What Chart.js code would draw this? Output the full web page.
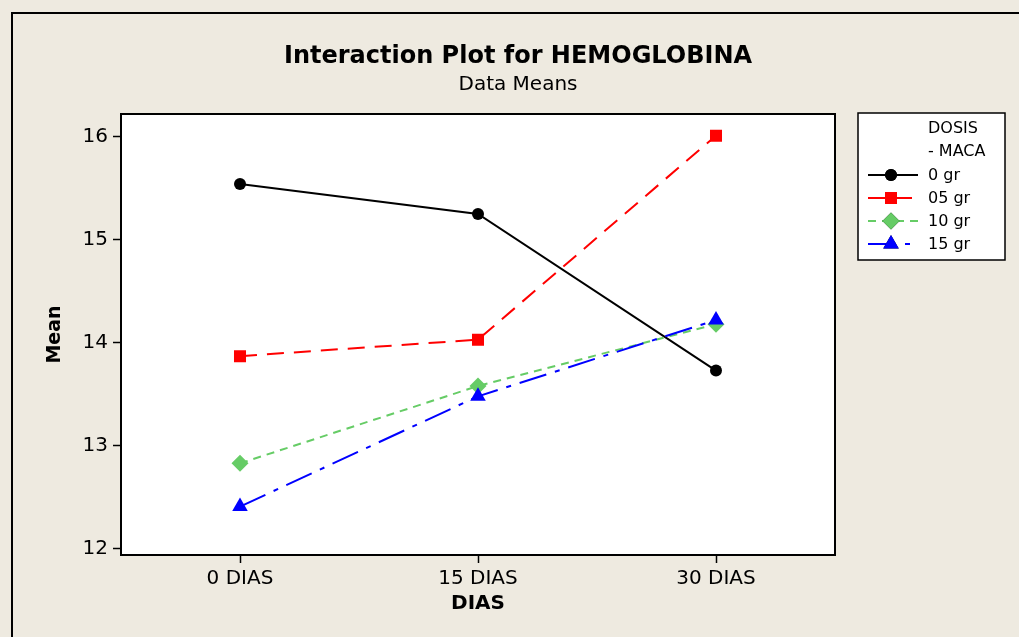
<!DOCTYPE html>
<html>
<head>
<meta charset="utf-8">
<script src="https://cdn.jsdelivr.net/npm/chart.js@4.4.1/dist/chart.umd.min.js"></script>
<style>
  html, body { margin: 0; padding: 0; background: #eeeae0; }
  #wrap { width: 1019px; height: 637px; }
</style>
</head>
<body>
<div id="wrap"><canvas id="grafico" width="1019" height="637"></canvas></div>
<script>
// datos
const dias = ['0 DIAS', '15 DIAS', '30 DIAS'];
const dosis = ['0 gr', '05 gr', '10 gr', '15 gr'];
const media0gr = [15.54, 15.25, 13.73];
const media05gr = [13.87, 14.03, 16.01];
const media10gr = [12.83, 13.58, 14.18];
const media15gr = [12.41, 13.48, 14.22];
const ticksY = [12, 13, 14, 15, 16];

const fuente = "'DejaVu Sans', Verdana, sans-serif";

// marco, titulos, borde del area y leyenda
const decoracion = {
    id: 'decoracion',
    beforeDraw(chart) {
        const ctx = chart.ctx;
        ctx.save();
        ctx.fillStyle = '#eeeae0';
        ctx.fillRect(0, 0, chart.width, chart.height);
        ctx.strokeStyle = '#000';
        ctx.lineWidth = 2;
        ctx.strokeRect(12, 13, 1030, 660);
        const a = chart.chartArea;
        ctx.fillStyle = '#fff';
        ctx.fillRect(a.left, a.top, a.right - a.left, a.bottom - a.top);
        ctx.restore();
    },
    afterDraw(chart) {
        const ctx = chart.ctx;
        const a = chart.chartArea;
        ctx.save();
        ctx.strokeStyle = '#000';
        ctx.lineWidth = 2;
        ctx.strokeRect(a.left, a.top, a.right - a.left, a.bottom - a.top);

        ctx.fillStyle = '#000';
        ctx.textAlign = 'center';
        ctx.textBaseline = 'middle';
        ctx.font = 'bold 24px ' + fuente;
        ctx.fillText('Interaction Plot for HEMOGLOBINA', 518, 57);
        ctx.font = '20px ' + fuente;
        ctx.fillText('Data Means', 518, 85);

        // leyenda
        const lx = 858, ly = 113, lw = 147, lh = 147;
        ctx.fillStyle = '#fff';
        ctx.fillRect(lx, ly, lw, lh);
        ctx.lineWidth = 1.5;
        ctx.strokeRect(lx, ly, lw, lh);
        ctx.fillStyle = '#000';
        ctx.textAlign = 'left';
        ctx.font = '16px ' + fuente;
        ctx.fillText('DOSIS', 928, 129);
        ctx.fillText('- MACA', 928, 152);
        chart.data.datasets.forEach((ds, i) => {
            const y = 175 + i * 23;
            ctx.strokeStyle = ds.borderColor;
            ctx.lineWidth = ds.borderWidth;
            ctx.setLineDash(ds.borderDash || []);
            ctx.beginPath();
            ctx.moveTo(868, y);
            ctx.lineTo(918, y);
            ctx.stroke();
            ctx.setLineDash([]);
            Chart.helpers.drawPoint(ctx, {
                pointStyle: ds.pointStyle,
                radius: ds.pointRadius,
                rotation: 0,
                borderWidth: 0
            }, 891, y);
            ctx.fillStyle = ds.pointBackgroundColor;
            ctx.fill();
            ctx.fillStyle = '#000';
            ctx.fillText(ds.label, 928, y + 1);
        });
        ctx.restore();
    }
};

const series = [media0gr, media05gr, media10gr, media15gr];
const colores = ['#000000', '#ff0000', '#66cc66', '#0000ff'];
const estilos = ['circle', 'rect', 'rectRot', 'triangle'];
const radios = [6, 8.5, 8.5, 9];
const guiones = [[], [17, 10], [8, 6], [28, 9, 5, 9]];

new Chart(document.getElementById('grafico'), {
    type: 'line',
    data: {
        labels: dias,
        datasets: series.map((s, i) => ({
            label: dosis[i],
            data: s,
            order: series.length - i, // la ultima serie queda encima
            borderColor: colores[i],
            borderWidth: 2,
            borderDash: guiones[i],
            pointStyle: estilos[i],
            pointRadius: radios[i],
            pointBackgroundColor: colores[i],
            pointBorderColor: colores[i],
            pointBorderWidth: 0,
            tension: 0
        }))
    },
    options: {
        responsive: false,
        animation: false,
        layout: { padding: { top: 114, right: 184, bottom: 0, left: 0 } },
        plugins: {
            legend: { display: false },
            tooltip: { enabled: false }
        },
        scales: {
            x: {
                type: 'category',
                offset: true,
                grid: { offset: false, drawOnChartArea: false, tickLength: 8, tickColor: '#000', tickWidth: 1.5 },
                border: { color: '#000', width: 2 },
                ticks: { color: '#000', font: { family: fuente, size: 20 }, padding: 4, maxRotation: 0 },
                title: { display: true, text: 'DIAS', color: '#000', font: { family: fuente, size: 20, weight: 'bold' }, padding: { bottom: 21 } },
                afterFit(scale) { scale.height = 82; }
            },
            y: {
                min: 11.94,
                max: 16.22,
                grid: { drawOnChartArea: false, tickLength: 8, tickColor: '#000', tickWidth: 1.5 },
                border: { color: '#000', width: 2 },
                ticks: { color: '#000', font: { family: fuente, size: 20 }, padding: 5 },
                title: { display: true, text: 'Mean', color: '#000', font: { family: fuente, size: 19, weight: 'bold' }, padding: { top: 44 } },
                afterBuildTicks(scale) { scale.ticks = ticksY.map(v => ({ value: v })); },
                afterFit(scale) { scale.width = 121; }
            }
        }
    },
    plugins: [decoracion]
});
</script>
</body>
</html>
